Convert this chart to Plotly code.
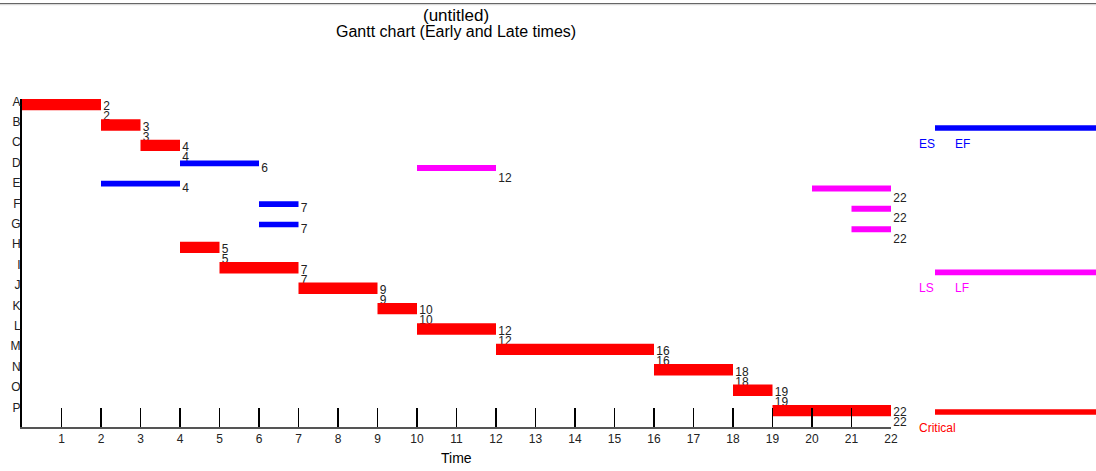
import plotly.graph_objects as go

# ---- data ----
tasks = ["A", "B", "C", "D", "E", "F", "G", "H", "I", "J", "K", "L", "M", "N", "O", "P"]
early_start = [0, 2, 3, 4, 2, 6, 6, 4, 5, 7, 9, 10, 12, 16, 18, 19]
early_finish = [2, 3, 4, 6, 4, 7, 7, 5, 7, 9, 10, 12, 16, 18, 19, 22]
late_start = [0, 2, 3, 10, 20, 21, 21, 4, 5, 7, 9, 10, 12, 16, 18, 19]
late_finish = [2, 3, 4, 12, 22, 22, 22, 5, 7, 9, 10, 12, 16, 18, 19, 22]
critical = [True, True, True, False, False, False, False, True, True, True, True, True, True, True, True, True]
time_ticks = list(range(1, 23))

# ---- geometry ----
W, H = 1096, 471
ML, MR, MT, MB = 22, 205, 99, 44
PW, PH = W - ML - MR, H - MT - MB
ROW_PX = 20.4
Y_TOP = (MT - 101.3) / ROW_PX
Y_BOT = (H - MB - 101.3) / ROW_PX
FONT = "Arial, Liberation Sans, sans-serif"

def dy(px):
    return px / ROW_PX

def px_x(p):
    return (p - ML) / PW

def px_y(p):
    return (H - MB - p) / PH

rows = list(range(len(tasks)))

fig = go.Figure()

# labels (drawn first so bars overlap them)
label_style = dict(mode="markers+text", textposition="middle right",
                   marker=dict(size=2, opacity=0, color="white"),
                   textfont=dict(family=FONT, size=12, color="#222"),
                   hoverinfo="skip", cliponaxis=False)
fig.add_trace(go.Scatter(x=early_finish, y=[r + dy(6) for r in rows],
                         text=[str(v) for v in early_finish], **label_style))
fig.add_trace(go.Scatter(x=late_finish, y=[r + dy(16) for r in rows],
                         text=[str(v) for v in late_finish], **label_style))

def segs(starts, ends, offs, mask):
    xs, ys = [], []
    for r, s, e, m in zip(rows, starts, ends, mask):
        if m:
            xs += [s, e, None]
            ys += [r + offs, r + offs, None]
    return xs, ys

noncrit = [not c for c in critical]
bx, by = segs(early_start, early_finish, dy(0.8), noncrit)
fig.add_trace(go.Scatter(x=bx, y=by, mode="lines", line=dict(color="#0000ff", width=5.7), hoverinfo="skip"))
mx, my = segs(late_start, late_finish, dy(5.5), noncrit)
fig.add_trace(go.Scatter(x=mx, y=my, mode="lines", line=dict(color="#ff00ff", width=6), hoverinfo="skip"))
rx, ry = segs(early_start, early_finish, dy(3.3), critical)
fig.add_trace(go.Scatter(x=rx, y=ry, mode="lines", line=dict(color="#ff0000", width=11.4), hoverinfo="skip"))

shapes = []
# top rule
shapes.append(dict(type="line", xref="paper", yref="paper", x0=px_x(0), x1=px_x(W),
                   y0=px_y(3.5), y1=px_y(3.5), line=dict(color="#666", width=1.2)))
shapes.append(dict(type="line", xref="paper", yref="paper", x0=px_x(0), x1=px_x(W),
                   y0=px_y(4.7), y1=px_y(4.7), line=dict(color="#d0d0d0", width=1)))
# legend lines
for py, col in [(128, "#0000ff"), (272.3, "#ff00ff"), (412, "#ff0000")]:
    shapes.append(dict(type="line", xref="paper", yref="paper", x0=px_x(935), x1=px_x(W),
                       y0=px_y(py), y1=px_y(py), line=dict(color=col, width=5.7)))

annotations = []
def ann(text, x, y, size, color="#000", xanchor="center"):
    annotations.append(dict(text=text, xref="paper", yref="paper", x=px_x(x), y=px_y(y),
                            xanchor=xanchor, yanchor="middle", showarrow=False,
                            font=dict(family=FONT, size=size, color=color)))

ann("(untitled)", 456, 15, 17)
ann("Gantt chart (Early and Late times)", 456, 32, 16)
ann("Time", 456, 458, 14)
ann("ES", 917, 143.5, 12, "#0000ff", "left")
ann("EF", 953, 143.5, 12, "#0000ff", "left")
ann("LS", 917, 287.5, 12, "#ff00ff", "left")
ann("LF", 953, 287.5, 12, "#ff00ff", "left")
ann("Critical", 917, 427.5, 12, "#ff0000", "left")

fig.update_layout(
    width=W, height=H, template="none",
    margin=dict(l=ML, r=MR, t=MT, b=MB, pad=0),
    paper_bgcolor="white", plot_bgcolor="white",
    showlegend=False, hovermode=False,
    shapes=shapes, annotations=annotations,
    font=dict(family=FONT, size=12, color="#222"),
    xaxis=dict(range=[0, 22], tickvals=time_ticks, ticktext=[str(t) for t in time_ticks],
               ticks="inside", ticklen=19, tickwidth=1.4, tickcolor="#000",
               showline=True, linecolor="#555", linewidth=2, mirror=False,
               showgrid=False, zeroline=False, automargin=False,
               tickfont=dict(family=FONT, size=12, color="#222")),
    yaxis=dict(range=[Y_BOT, Y_TOP], tickvals=rows, ticktext=tasks,
               ticks="", showline=True, linecolor="#000", linewidth=2,
               showgrid=False, zeroline=False, automargin=False,
               ticklabelstandoff=-3,
               tickfont=dict(family=FONT, size=12, color="#222")),
)

fig.write_html("out.html", config={"displayModeBar": False, "staticPlot": True},
               post_script="document.body.style.margin='0px';document.body.style.overflow='hidden';")
